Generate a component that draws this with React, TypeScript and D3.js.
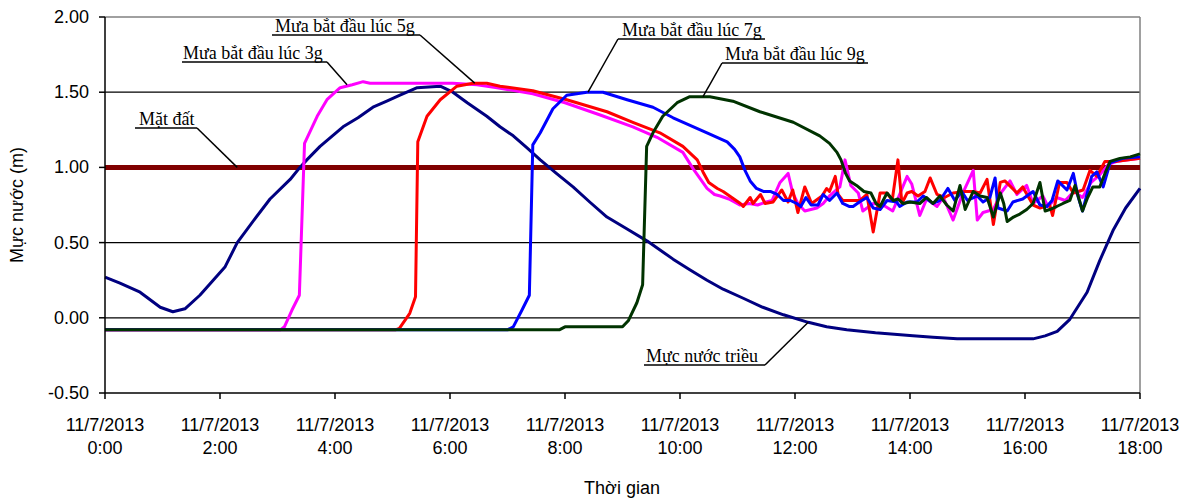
import React from 'react';
import * as d3 from 'd3';

// time in hours since 11/7/2013 0:00, water level in m
const tide: [number, number][] = [
  [0, 0.27], [0.26, 0.23], [0.61, 0.17], [0.96, 0.07], [1.18, 0.04], [1.39, 0.06], [1.65, 0.15],
  [2.09, 0.34], [2.3, 0.5], [2.61, 0.66], [2.87, 0.79], [3.22, 0.92], [3.39, 1.0], [3.51, 1.05],
  [3.74, 1.14], [4.14, 1.27], [4.4, 1.33], [4.66, 1.4], [4.9, 1.44], [5.13, 1.48], [5.43, 1.53],
  [5.83, 1.54], [6.05, 1.5], [6.3, 1.43], [6.64, 1.34], [6.87, 1.27], [7.1, 1.21], [7.34, 1.13],
  [7.57, 1.05], [7.85, 0.96], [8.14, 0.87], [8.43, 0.77], [8.73, 0.67], [9.08, 0.59], [9.43, 0.51],
  [9.88, 0.39], [10.17, 0.32], [10.47, 0.25], [10.75, 0.19], [11.1, 0.13], [11.44, 0.07],
  [11.8, 0.02], [12.23, -0.03], [12.55, -0.06], [12.9, -0.08], [13.4, -0.1], [14.05, -0.12],
  [14.4, -0.13], [14.82, -0.14], [15.5, -0.14], [16.14, -0.14], [16.35, -0.12], [16.56, -0.09],
  [16.78, -0.01], [17.08, 0.17], [17.3, 0.38], [17.53, 0.58], [17.75, 0.73], [18, 0.86],
];

const rain3: [number, number][] = [
  [0, -0.08], [3.05, -0.08], [3.12, -0.06], [3.25, 0.05], [3.38, 0.15], [3.47, 1.16], [3.69, 1.34],
  [3.86, 1.45], [4.09, 1.53], [4.3, 1.55], [4.49, 1.57], [4.61, 1.56], [5.0, 1.56], [5.5, 1.56],
  [6.05, 1.56], [6.47, 1.55], [6.82, 1.53], [7.44, 1.49], [8.0, 1.43], [8.6, 1.35], [9.18, 1.27],
  [9.6, 1.2], [10.05, 1.1], [10.23, 0.99], [10.47, 0.86], [10.6, 0.82], [10.7, 0.81], [10.85, 0.79],
  [11.04, 0.75], [11.2, 0.76], [11.35, 0.75], [11.5, 0.77], [11.6, 0.78], [11.74, 0.9], [11.88, 0.96],
  [11.96, 0.83], [12.05, 0.76], [12.17, 0.71], [12.38, 0.73], [12.49, 0.76], [12.6, 0.81],
  [12.78, 0.87], [12.87, 1.05], [12.97, 0.88], [13.1, 0.83], [13.18, 0.71], [13.36, 0.76],
  [13.53, 0.75], [13.7, 0.71], [13.95, 0.94], [14.03, 0.89], [14.17, 0.68], [14.29, 0.79],
  [14.47, 0.74], [14.58, 0.8], [14.75, 0.65], [14.92, 0.83], [15.1, 0.98], [15.17, 0.65],
  [15.27, 0.7], [15.45, 0.72], [15.6, 0.84], [15.74, 0.91], [15.86, 0.82], [16.03, 0.88],
  [16.14, 0.76], [16.31, 0.81], [16.4, 0.74], [16.55, 0.8], [16.7, 0.78], [16.85, 0.84],
  [17.0, 0.8], [17.15, 0.9], [17.3, 0.95], [17.45, 1.02], [17.6, 1.04], [17.8, 1.05], [18, 1.06],
];

const rain5: [number, number][] = [
  [0, -0.08], [5.05, -0.08], [5.12, -0.07], [5.3, 0.03], [5.4, 0.14], [5.44, 1.17], [5.6, 1.34],
  [5.83, 1.45], [6.12, 1.54], [6.4, 1.56], [6.64, 1.56], [6.87, 1.54], [7.44, 1.51], [8.03, 1.45],
  [8.73, 1.37], [9.18, 1.3], [9.65, 1.23], [10.05, 1.14], [10.3, 1.05], [10.4, 0.97], [10.5, 0.9],
  [10.65, 0.86], [10.75, 0.84], [10.9, 0.8], [11.05, 0.76], [11.1, 0.74], [11.22, 0.8], [11.27, 0.76],
  [11.4, 0.82], [11.48, 0.76], [11.62, 0.77], [11.77, 0.85], [11.88, 0.77], [11.96, 0.85],
  [12.05, 0.7], [12.17, 0.87], [12.29, 0.76], [12.47, 0.81], [12.55, 0.86], [12.6, 0.84],
  [12.7, 0.94], [12.75, 0.82], [12.83, 0.78], [13.0, 0.78], [13.13, 0.78], [13.25, 0.82],
  [13.36, 0.57], [13.48, 0.83], [13.6, 0.83], [13.69, 0.78], [13.79, 1.05], [13.86, 0.76],
  [13.95, 0.83], [14.03, 0.84], [14.14, 0.81], [14.26, 0.84], [14.35, 0.93], [14.47, 0.82],
  [14.6, 0.8], [14.75, 0.83], [14.96, 0.84], [15.1, 0.84], [15.22, 0.83], [15.34, 0.92],
  [15.45, 0.62], [15.57, 0.9], [15.65, 0.91], [15.86, 0.83], [15.96, 0.87], [16.14, 0.75],
  [16.26, 0.73], [16.43, 0.75], [16.48, 0.68], [16.6, 0.9], [16.73, 0.9], [16.84, 0.83],
  [17.01, 0.85], [17.13, 0.98], [17.25, 0.94], [17.39, 1.04], [17.6, 1.04], [17.8, 1.05], [18, 1.06],
];

const rain7: [number, number][] = [
  [0, -0.08], [7.0, -0.08], [7.1, -0.06], [7.25, 0.05], [7.38, 0.15], [7.44, 1.15], [7.57, 1.23],
  [7.79, 1.39], [8.03, 1.48], [8.38, 1.5], [8.66, 1.5], [9.08, 1.45], [9.53, 1.4], [9.88, 1.33],
  [10.47, 1.23], [10.82, 1.17], [10.95, 1.12], [11.04, 1.07], [11.13, 0.98], [11.22, 0.91],
  [11.33, 0.86], [11.45, 0.84], [11.57, 0.84], [11.69, 0.82], [11.8, 0.78], [11.92, 0.78],
  [12.03, 0.76], [12.1, 0.74], [12.19, 0.8], [12.28, 0.75], [12.4, 0.75], [12.49, 0.82],
  [12.6, 0.78], [12.73, 0.83], [12.83, 0.76], [12.95, 0.74], [13.01, 0.74], [13.12, 0.77],
  [13.25, 0.8], [13.36, 0.73], [13.48, 0.72], [13.6, 0.78], [13.77, 0.77], [13.82, 0.74],
  [13.95, 0.77], [14.12, 0.77], [14.23, 0.81], [14.4, 0.76], [14.52, 0.78], [14.66, 0.86],
  [14.78, 0.78], [14.9, 0.84], [15.0, 0.78], [15.17, 0.81], [15.27, 0.77], [15.39, 0.8],
  [15.48, 0.93], [15.53, 0.73], [15.69, 0.71], [15.79, 0.77], [15.96, 0.79], [16.14, 0.84],
  [16.26, 0.75], [16.38, 0.74], [16.47, 0.78], [16.57, 0.91], [16.73, 0.85], [16.84, 0.96],
  [16.92, 0.81], [17.0, 0.71], [17.16, 0.94], [17.25, 0.97], [17.36, 0.87], [17.48, 1.03],
  [17.7, 1.06], [18, 1.07],
];

const rain9: [number, number][] = [
  [0, -0.08], [7.9, -0.08], [8.0, -0.06], [9.0, -0.06], [9.1, -0.02], [9.25, 0.1], [9.35, 0.22],
  [9.42, 1.14], [9.53, 1.23], [9.7, 1.34], [9.95, 1.43], [10.17, 1.47], [10.52, 1.47],
  [10.92, 1.44], [11.39, 1.37], [11.97, 1.3], [12.43, 1.21], [12.6, 1.16], [12.73, 1.1],
  [12.8, 1.05], [12.88, 0.96], [12.95, 0.91], [13.07, 0.88], [13.2, 0.84], [13.32, 0.83],
  [13.41, 0.76], [13.48, 0.74], [13.6, 0.83], [13.71, 0.78], [13.79, 0.79], [13.88, 0.76],
  [14.0, 0.77], [14.17, 0.76], [14.29, 0.8], [14.4, 0.76], [14.52, 0.81], [14.64, 0.75],
  [14.75, 0.71], [14.87, 0.88], [14.96, 0.72], [15.1, 0.84], [15.22, 0.81], [15.34, 0.8],
  [15.45, 0.67], [15.57, 0.83], [15.63, 0.76], [15.69, 0.64], [15.8, 0.67], [15.91, 0.69],
  [16.03, 0.72], [16.14, 0.76], [16.26, 0.9], [16.35, 0.71], [16.43, 0.72], [16.55, 0.74],
  [16.66, 0.76], [16.78, 0.78], [16.87, 0.88], [17.0, 0.71], [17.09, 0.8], [17.18, 0.87],
  [17.3, 0.87], [17.39, 0.96], [17.48, 1.04], [17.65, 1.06], [17.83, 1.07], [18, 1.09],
];

const groundLevel = 1.0;
const yTicks = [-0.5, 0, 0.5, 1.0, 1.5, 2.0];
const xTicks = [0, 2, 4, 6, 8, 10, 12, 14, 16, 18];
const dateLabel = '11/7/2013';

const series = [
  { name: 'Mực nước triều', data: tide, color: '#000080' },
  { name: 'Mưa bắt đầu lúc 3g', data: rain3, color: '#FF00FF' },
  { name: 'Mưa bắt đầu lúc 5g', data: rain5, color: '#FF0000' },
  { name: 'Mưa bắt đầu lúc 7g', data: rain7, color: '#0000FF' },
  { name: 'Mưa bắt đầu lúc 9g', data: rain9, color: '#003300' },
];

// callout labels: text position (px), underline span, which end the leader leaves from,
// and the point on the curve it points at (hours, m)
const callouts = [
  { text: 'Mặt đất', tx: 139, ty: 125, ul: [135, 197], end: 1, at: [2.3, 1.0] },
  { text: 'Mưa bắt đầu lúc 3g', tx: 183, ty: 59, ul: [182, 327], end: 1, at: [4.21, 1.55] },
  { text: 'Mưa bắt đầu lúc 5g', tx: 275, ty: 32, ul: [272, 420], end: 1, at: [6.43, 1.56] },
  { text: 'Mưa bắt đầu lúc 7g', tx: 622, ty: 36, ul: [618, 765], end: 0, at: [8.4, 1.5] },
  { text: 'Mưa bắt đầu lúc 9g', tx: 725, ty: 60, ul: [722, 868], end: 0, at: [10.4, 1.47] },
  { text: 'Mực nước triều', tx: 646, ty: 362, ul: [644, 765], end: 1, at: [12.23, -0.03] },
];

const W = 1195;
const H = 501;
const margin = { left: 105, right: 55, top: 17, bottom: 108 };

export default function App() {
  const x = d3.scaleLinear().domain([0, 18]).range([margin.left, W - margin.right]);
  const y = d3.scaleLinear().domain([-0.5, 2.0]).range([H - margin.bottom, margin.top]);
  const line = d3.line<[number, number]>().x(d => x(d[0])).y(d => y(d[1]));
  const sans = 'Arial, "Liberation Sans", sans-serif';
  const serif = '"Times New Roman", "Liberation Serif", serif';
  const x0 = x(0), x1 = x(18), yb = y(-0.5), yt = y(2.0);

  return (
    <svg width={W} height={H} style={{ position: 'absolute', left: 0, top: 0, background: '#fff' }}>
      {/* gridlines */}
      {yTicks.filter(t => t > -0.5 && t < 2).map(t => (
        <line key={t} x1={x0} x2={x1} y1={y(t)} y2={y(t)} stroke="#000" strokeWidth={1.2} />
      ))}
      {/* plot border top/right */}
      <line x1={x0} x2={x1} y1={yt} y2={yt} stroke="#808080" strokeWidth={1.5} />
      <line x1={x1} x2={x1} y1={yt} y2={yb} stroke="#808080" strokeWidth={1.5} />

      {/* ground level */}
      <line x1={x0} x2={x1} y1={y(groundLevel)} y2={y(groundLevel)} stroke="#800000" strokeWidth={5} />

      {series.map(s => (
        <path key={s.name} d={line(s.data) || ''} fill="none" stroke={s.color} strokeWidth={3} strokeLinejoin="round" />
      ))}

      {/* axes */}
      <line x1={x0} x2={x0} y1={yt} y2={yb} stroke="#000" strokeWidth={1.5} />
      <line x1={x0} x2={x1} y1={yb} y2={yb} stroke="#000" strokeWidth={1.5} />
      {yTicks.map(t => (
        <g key={t}>
          <line x1={x0 - 6} x2={x0} y1={y(t)} y2={y(t)} stroke="#000" strokeWidth={1.5} />
          <text x={x0 - 16} y={y(t) + 6} textAnchor="end" fontFamily={sans} fontSize={18}>
            {t.toFixed(2)}
          </text>
        </g>
      ))}
      {xTicks.map(t => (
        <g key={t}>
          <line x1={x(t)} x2={x(t)} y1={yb} y2={yb + 6} stroke="#000" strokeWidth={1.5} />
          <text x={x(t)} y={431} textAnchor="middle" fontFamily={sans} fontSize={18}>{dateLabel}</text>
          <text x={x(t)} y={454} textAnchor="middle" fontFamily={sans} fontSize={18}>{`${t}:00`}</text>
        </g>
      ))}
      <text x={622} y={494} textAnchor="middle" fontFamily={sans} fontSize={18}>Thời gian</text>
      <text transform="translate(23,205) rotate(-90)" textAnchor="middle" fontFamily={sans} fontSize={18}>
        Mực nước (m)
      </text>

      {/* callouts */}
      {callouts.map(c => (
        <g key={c.text}>
          <text x={c.tx} y={c.ty} fontFamily={serif} fontSize={18}>{c.text}</text>
          <line x1={c.ul[0]} x2={c.ul[1]} y1={c.ty + 3} y2={c.ty + 3} stroke="#000" strokeWidth={1.5} />
          <line x1={c.ul[c.end]} x2={x(c.at[0])} y1={c.ty + 3} y2={y(c.at[1])} stroke="#000" strokeWidth={1.5} />
        </g>
      ))}
    </svg>
  );
}
